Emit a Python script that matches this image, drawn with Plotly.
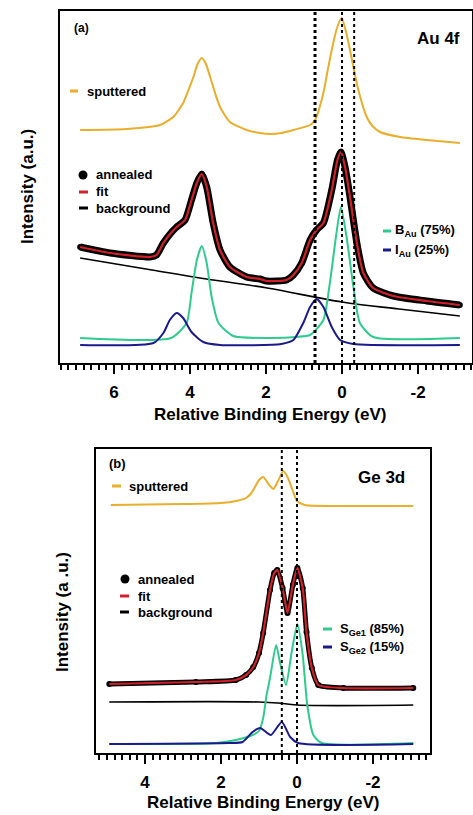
import plotly.graph_objects as go

# ---------------- Panel (a): Au 4f ----------------
a_sput_x = [6.89, 5.67, 4.79, 4.44, 4.18, 4.05, 3.91, 3.80, 3.69, 3.58, 3.47, 3.34, 3.21, 2.95, 2.51, 2.16, 1.89, 1.60,
            1.28, 0.84, 0.71, 0.49, 0.38, 0.27, 0.14, 0.01, -0.10, -0.21, -0.32, -0.43, -0.65, -0.80, -1.00, -1.53, -2.23, -3.10]
a_sput_y = [233, 234, 238, 246, 260, 272, 286, 299, 305, 299, 286, 270, 256, 241, 233, 230, 229, 230,
            233, 238, 243, 270, 292, 313, 334, 345, 332, 313, 292, 273, 246, 237, 231, 226, 223, 220]

a_ann_x = [6.89, 6.10, 5.05, 4.88, 4.70, 4.48, 4.35, 4.13, 3.96, 3.82, 3.69, 3.56, 3.39, 3.21, 2.95, 2.51, 2.16, 1.98,
           1.46, 1.28, 1.06, 0.84, 0.67, 0.49, 0.27, 0.12, 0.03, -0.08, -0.21, -0.39, -0.56, -0.82, -1.35, -2.23, -3.10]
a_ann_y = [116, 110, 106, 108, 120, 131, 136, 143, 163, 180, 189, 176, 140, 113, 96, 86, 84, 82,
           83, 88, 100, 123, 133, 140, 173, 203, 211, 196, 166, 120, 90, 75, 67, 62, 58]
a_fit_y = a_ann_y

a_bg_x = [6.89, 5.00, 3.74, 1.97, 0.00, -1.50, -3.10]
a_bg_y = [105, 93, 85, 75, 61, 54, 47]

a_b_x = [6.89, 4.50, 4.09, 3.96, 3.82, 3.69, 3.56, 3.43, 3.25, 2.86, 2.00, 1.20, 0.84, 0.49, 0.32, 0.16, 0.03,
         -0.12, -0.30, -0.47, -0.82, -3.10]
a_b_y = [25, 25, 40, 70, 103, 117, 100, 66, 40, 27, 25, 26, 28, 43, 80, 126, 156, 126, 76, 40, 26, 25]

a_i_x = [6.89, 4.96, 4.70, 4.53, 4.35, 4.18, 3.96, 3.65, 3.21, 1.60, 1.28, 1.02, 0.84, 0.67, 0.49, 0.27, 0.05, -0.30, -3.10]
a_i_y = [18, 20, 30, 43, 50, 45, 31, 21, 18, 19, 23, 40, 56, 64, 56, 36, 23, 19, 18]

a_vlines = [0.71, 0.0, -0.32]

# ---------------- Panel (b): Ge 3d ----------------
b_sput_x = [4.90, 3.00, 2.00, 1.60, 1.34, 1.20, 1.12, 1.00, 0.89, 0.75, 0.62, 0.50, 0.36, 0.25, 0.10, 0.00, -0.20, -1.00, -3.06]
b_sput_y = [248, 249, 250, 252, 255, 260, 265, 273, 276, 269, 264, 272, 282, 276, 261, 252, 248, 247, 247]

b_ann_x = [4.94, 2.66, 1.61, 1.34, 1.15, 1.00, 0.89, 0.71, 0.60, 0.52, 0.38, 0.25, 0.11, -0.01, -0.15, -0.25, -0.39, -0.56, -1.22, -3.06]
b_ann_y = [69, 71, 73, 78, 86, 100, 120, 163, 180, 183, 165, 140, 168, 185, 165, 121, 85, 68, 65, 65]
b_fit_y = b_ann_y

b_bg_x = [4.94, 1.00, 0.50, 0.00, -3.06]
b_bg_y = [51, 51, 50, 48, 48]

b_s1_x = [4.94, 2.13, 1.61, 1.17, 1.00, 0.89, 0.80, 0.71, 0.55, 0.45, 0.29, 0.14, -0.01, -0.15, -0.27, -0.43, -0.65, -3.06]
b_s1_y = [9, 10, 13, 18, 22, 35, 58, 75, 108, 91, 68, 101, 129, 98, 48, 18, 10, 10]

b_s2_x = [4.94, 1.80, 1.43, 1.17, 0.97, 0.69, 0.40, 0.18, -0.03, -3.06]
b_s2_y = [9, 10, 11, 21, 25, 18, 31, 16, 10, 9]

b_vlines = [0.40, 0.0]

# tick labels
a_tickvals = [6, 4, 2, 0, -2]
a_ticktext = ["6", "4", "2", "0", "-2"]
b_tickvals = [4, 2, 0, -2]
b_ticktext = ["4", "2", "0", "-2"]

# ---------------- Styles ----------------
ORANGE = "#E9AE2B"
RED = "#D0202A"
GREEN = "#2FCB8E"
BLUE = "#1A1A8C"
BLACK = "#000000"
FONT = "Liberation Sans, Arial, sans-serif"

W, H = 473, 815


def px(x):
    return x / W


def py(y):
    return 1 - y / H


fig = go.Figure()


def add_panel(xa, ya, sx, sy, ax, ay, fy, bx, by, gx, gy, ux, uy, lw_ann, msize):
    fig.add_trace(go.Scatter(x=sx, y=sy, mode="lines", line=dict(color=ORANGE, width=2, shape="spline", smoothing=0.6),
                             xaxis=xa, yaxis=ya, name="sputtered", showlegend=False))
    fig.add_trace(go.Scatter(x=bx, y=by, mode="lines", line=dict(color=BLACK, width=1.6, shape="spline"),
                             xaxis=xa, yaxis=ya, name="background", showlegend=False))
    fig.add_trace(go.Scatter(x=ax, y=ay, mode="lines+markers",
                             line=dict(color=BLACK, width=lw_ann, shape="spline", smoothing=0.6),
                             marker=dict(color=BLACK, size=msize),
                             xaxis=xa, yaxis=ya, name="annealed", showlegend=False))
    fig.add_trace(go.Scatter(x=ax, y=fy, mode="lines", line=dict(color=RED, width=2.2, shape="spline", smoothing=0.6),
                             xaxis=xa, yaxis=ya, name="fit", showlegend=False))
    fig.add_trace(go.Scatter(x=gx, y=gy, mode="lines", line=dict(color=GREEN, width=2, shape="spline", smoothing=0.6),
                             xaxis=xa, yaxis=ya, showlegend=False))
    fig.add_trace(go.Scatter(x=ux, y=uy, mode="lines", line=dict(color=BLUE, width=2, shape="spline", smoothing=0.6),
                             xaxis=xa, yaxis=ya, showlegend=False))


add_panel("x", "y", a_sput_x, a_sput_y, a_ann_x, a_ann_y, a_fit_y, a_bg_x, a_bg_y,
          a_b_x, a_b_y, a_i_x, a_i_y, 7, 6)
add_panel("x2", "y2", b_sput_x, b_sput_y, b_ann_x, b_ann_y, b_fit_y, b_bg_x, b_bg_y,
          b_s1_x, b_s1_y, b_s2_x, b_s2_y, 5, 6)

shapes = []
for i, v in enumerate(a_vlines):
    shapes.append(dict(type="line", xref="x", yref="paper", x0=v, x1=v, y0=py(363), y1=py(11),
                       line=dict(color=BLACK, width=3 if i == 0 else 2, dash="dot"), layer="above"))
for v in b_vlines:
    shapes.append(dict(type="line", xref="x2", yref="paper", x0=v, x1=v, y0=py(753), y1=py(449),
                       line=dict(color=BLACK, width=2, dash="dot"), layer="above"))


def leg_line(x0, x1, y, color):
    shapes.append(dict(type="line", xref="paper", yref="paper", x0=px(x0), x1=px(x1), y0=py(y), y1=py(y),
                       line=dict(color=color, width=3)))


def leg_dot(cx, cy, r):
    shapes.append(dict(type="circle", xref="paper", yref="paper", x0=px(cx - r), x1=px(cx + r),
                       y0=py(cy + r), y1=py(cy - r), fillcolor=BLACK, line=dict(color=BLACK, width=0)))


# legend symbols (a)
leg_line(70, 78, 91, ORANGE)
leg_dot(83, 175, 4.5)
leg_line(79, 88, 192, RED)
leg_line(79, 88, 208, BLACK)
leg_line(383, 391, 231, GREEN)
leg_line(383, 391, 250, BLUE)
# legend symbols (b)
leg_line(112, 121, 486, ORANGE)
leg_dot(125, 579, 4.5)
leg_line(120, 129, 596, RED)
leg_line(120, 129, 612, BLACK)
leg_line(323, 332, 629, GREEN)
leg_line(323, 332, 647, BLUE)

annotations = []


def text(t, x, y, size=13, anchor="left", angle=0):
    annotations.append(dict(text=t, x=px(x), y=py(y), xref="paper", yref="paper", showarrow=False,
                            xanchor=anchor, yanchor="middle", textangle=angle,
                            font=dict(family=FONT, size=size, color=BLACK, weight="bold")))


text("sputtered", 85, 91)
text("annealed", 94, 175)
text("fit", 94, 192)
text("background", 94, 208)
text("B<sub>Au</sub> (75%)", 393, 231)
text("I<sub>Au</sub> (25%)", 393, 250)
text("(a)", 72, 28, size=12)
text("Au 4f", 438, 39, size=17, anchor="center")
text("Relative Binding Energy (eV)", 270, 415, size=17, anchor="center")
text("Intensity (a.u.)", 27, 187, size=17, anchor="center", angle=-90)

text("sputtered", 127, 486)
text("annealed", 136, 579)
text("fit", 136, 596)
text("background", 136, 612)
text("S<sub>Ge1</sub> (85%)", 338, 629)
text("S<sub>Ge2</sub> (15%)", 338, 647)
text("(b)", 107, 463, size=13)
text("Ge 3d", 381, 478, size=17, anchor="center")
text("Relative Binding Energy (eV)", 263, 802, size=17, anchor="center")
text("Intensity (a .u.)", 62, 612, size=17, anchor="center", angle=-90)

xcommon = dict(showline=True, linecolor=BLACK, linewidth=2, mirror=True, ticks="outside", ticklen=9,
               tickwidth=2, tickcolor=BLACK, showgrid=False, zeroline=False,
               tickfont=dict(family=FONT, size=17, color=BLACK, weight="bold"),
               minor=dict(dtick=0.2, tick0=0, ticks="outside", ticklen=5, tickwidth=1.5, tickcolor=BLACK, showgrid=False),
               ticklabelstandoff=4)
ycommon = dict(showline=True, linecolor=BLACK, linewidth=2, mirror=True, ticks="", showticklabels=False,
               showgrid=False, zeroline=False)

fig.update_layout(
    width=W, height=H, margin=dict(l=0, r=0, t=0, b=0),
    paper_bgcolor="white", plot_bgcolor="white", showlegend=False,
    xaxis=dict(domain=[px(60), px(472)], range=[7.42, -3.42], anchor="y",
               tickmode="array", tickvals=a_tickvals, ticktext=a_ticktext, **xcommon),
    yaxis=dict(domain=[py(363), py(11)], range=[0, 352], anchor="x", **ycommon),
    xaxis2=dict(domain=[px(96), px(430)], range=[5.29, -3.50], anchor="y2",
                tickmode="array", tickvals=b_tickvals, ticktext=b_ticktext, **xcommon),
    yaxis2=dict(domain=[py(753), py(449)], range=[0, 304], anchor="x2", **ycommon),
    shapes=shapes, annotations=annotations,
)

fig.write_html("out.html", config={"displayModeBar": False},
               post_script="document.body.style.margin='0';document.body.style.overflow='hidden';")
